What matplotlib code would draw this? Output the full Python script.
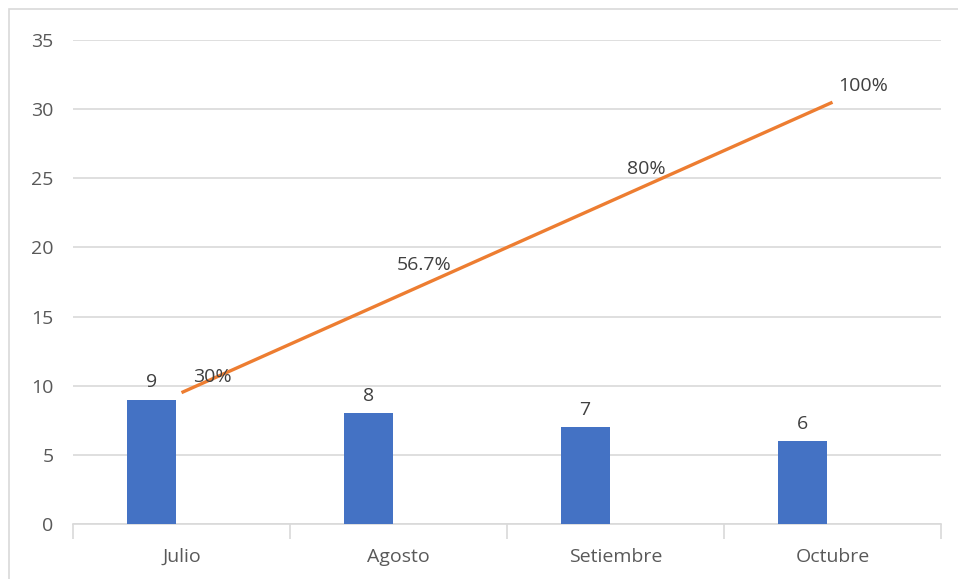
import numpy as np
import matplotlib.pyplot as plt
from matplotlib.patches import Rectangle

meses = ['Julio', 'Agosto', 'Setiembre', 'Octubre']
casos = [9, 8, 7, 6]
linea = [9.5, 16.5, 23.5, 30.5]
porcentajes = ['30%', '56.7%', '80%', '100%']

plt.rcParams['font.family'] = ['Open Sans', 'DejaVu Sans']
gris = '#595959'
texto = '#404040'

fig = plt.figure(figsize=(9.58, 5.79), dpi=100)
ax = fig.add_axes([73/958, 1 - 524/579, (941 - 73)/958, (524 - 40)/579])

x = np.arange(len(meses))
ax.bar(x - 0.14, casos, width=0.226, color='#4472C4', zorder=3)
for xi, v in zip(x, casos):
    ax.text(xi - 0.14, v + 0.6, str(v), ha='center', va='bottom', fontsize=14, color=texto)

ax.plot(x, linea, color='#ED7D31', lw=2.4, zorder=4, solid_capstyle='butt')
# the percentage labels sit at slightly different heights above the line
dy = [1.15, 2.25, 2.2, 1.15]
dx = [0.14, 0.12, 0.14, 0.14]
for xi, v, t, a, b in zip(x, linea, porcentajes, dx, dy):
    ax.text(xi + a, v + b, t, ha='center', va='center', fontsize=14, color=texto, zorder=5)

ax.set_xlim(-0.5, 3.5)
ax.set_ylim(0, 35)
ax.set_yticks(range(0, 36, 5))
ax.yaxis.grid(True, color='#D9D9D9', lw=1.2, zorder=0)
ax.set_axisbelow(True)
ax.tick_params(axis='y', length=0, labelsize=14, labelcolor=gris, pad=14)

ax.set_xticks(x)
ax.set_xticklabels(meses)
ax.set_xticks(np.arange(-0.5, 4, 1), minor=True)
ax.tick_params(axis='x', which='major', length=0, labelsize=14, labelcolor=gris, pad=17)
ax.tick_params(axis='x', which='minor', length=11, color='#D9D9D9', width=1.2)

for s in ['top', 'right', 'left']:
    ax.spines[s].set_visible(False)
ax.spines['bottom'].set_color('#D9D9D9')
ax.spines['bottom'].set_linewidth(1.2)

fig.patches.append(Rectangle((9/958, -0.01), 1.0, 1 - 9/579 + 0.01, transform=fig.transFigure,
                             fill=False, edgecolor='#D9D9D9', lw=1.2))

fig.savefig('out.png', dpi=100)
